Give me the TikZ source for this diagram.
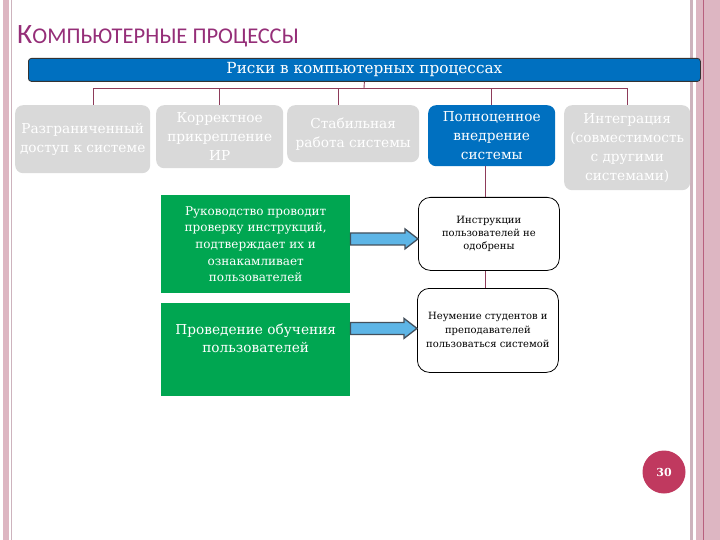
\documentclass[tikz,border=0pt]{standalone}
\usepackage{fontspec}
\setmainfont{DejaVu Serif}
\newfontfamily\titlefont{Carlito}
\usetikzlibrary{calc}
\definecolor{graybox}{HTML}{D9D9D9}
\definecolor{bluebox}{HTML}{0070C0}
\definecolor{greenbox}{HTML}{00A651}
\definecolor{conncol}{HTML}{8E3B5A}
\definecolor{titlecol}{HTML}{952E78}
\definecolor{pinkband}{HTML}{DDB6C2}
\definecolor{pinkline}{HTML}{B8607E}
\definecolor{thinline}{HTML}{CDB3BD}
\definecolor{pagecol}{HTML}{C0395F}
\definecolor{arrowfill}{HTML}{5DB5E6}
\definecolor{arrowline}{HTML}{44505C}
\begin{document}
\begin{tikzpicture}[x=1pt,y=-1pt,
  box/.style={anchor=north west, inner sep=0pt, align=center},
  grayb/.style={box, fill=graybox, rounded corners=8pt, text=white, font=\fontsize{13.7}{19}\selectfont},
  blueb/.style={box, fill=bluebox, rounded corners=8pt, text=white, font=\fontsize{13.7}{19}\selectfont},
  greenb/.style={box, fill=greenbox, text=white},
  whiteb/.style={box, draw=black, fill=white, line width=0.8pt, rounded corners=12pt, font=\fontsize{10}{13}\selectfont},
  conn/.style={draw=conncol, line width=0.9pt},
  bigarrow/.style={to path={let \p1=(\tikztostart), \p2=(\tikztotarget) in
    (\x1,\y2+6pt) -- (\x2-13pt,\y2+6pt) -- (\x2-13pt,\y2+10pt) -- (\x2,\y2) --
    (\x2-13pt,\y2-10pt) -- (\x2-13pt,\y2-6pt) -- (\x1,\y2-6pt) -- cycle}},
  arrowbody/.style={draw=arrowline, fill=arrowfill, line width=1.3pt}
]
% page frame
\fill[white] (0,0) rectangle (720,540);
\useasboundingbox (0,0) rectangle (720,540);
\fill[pinkband] (3,0) rectangle (9,540);
\draw[thinline, line width=0.8pt] (11.5,0) -- (11.5,540);
\fill[thinline] (690,0) rectangle (692.5,540);
\fill[pinkband] (696,0) rectangle (720,540);
\draw[pinkline, line width=0.9pt] (703,0) -- (703,540);

% title
\node[anchor=base west, inner sep=0pt, text=titlecol, font=\titlefont] (title) at (17,44)
  {{\fontsize{28}{28}\selectfont К}{\fontsize{22.5}{22.5}\selectfont ОМПЬЮТЕРНЫЕ ПРОЦЕССЫ}};

% top box
\node[box, fill=bluebox, draw=black!80, line width=0.8pt, rounded corners=3pt,
  minimum width=672, minimum height=23, text=white, font=\fontsize{15.3}{15.3}\selectfont]
  (top) at (28,58) {Риски в компьютерных процессах};

% second row
\node[grayb, minimum width=135, minimum height=68] (b1) at (15,105) {Разграниченный\\доступ к системе};
\node[grayb, minimum width=127, minimum height=63] (b2) at (156,105) {Корректное\\прикрепление\\ИР};
\node[grayb, minimum width=132, minimum height=57] (b3) at (287,105) {Стабильная\\работа системы};
\node[blueb, minimum width=127, minimum height=61] (b4) at (428,105) {Полноценное\\внедрение\\системы};
\node[grayb, minimum width=126, minimum height=85] (b5) at (564,105) {Интеграция\\(совместимость\\с другими\\системами)};

% green boxes
\node[greenb, minimum width=189, minimum height=98, font=\fontsize{12}{16.7}\selectfont] (g1) at (161,195)
  {Руководство проводит\\проверку инструкций,\\подтверждает их и\\ознакамливает\\пользователей};
\node[greenb, minimum width=189, minimum height=93] (g2) at (161,303) {};
\node[inner sep=0pt, align=center, text=white, font=\fontsize{13.7}{18}\selectfont] (g2t)
  at ([yshift=11pt]g2.center) {Проведение обучения\\пользователей};

% white boxes
\node[whiteb, minimum width=141, minimum height=73] (i1) at (418,197) {Инструкции\\пользователей не\\одобрены};
\node[whiteb, minimum width=141, minimum height=84, font=\fontsize{10}{14}\selectfont] (i2) at (417,288)
  {Неумение студентов и\\преподавателей\\пользоваться системой};

% connectors
\coordinate (bus) at (364,88);
\draw[conn] (top.south) -- (bus);
\draw[conn] (bus) -| ([xshift=10.5pt]b1.north);
\draw[conn] (bus) -| (b2.north);
\draw[conn] (bus) -| ([xshift=-15pt]b3.north);
\draw[conn] (bus) -| (b4.north);
\draw[conn] (bus) -| (b5.north);
\draw[conn] ([xshift=-3pt]i1.north |- b4.south) -- ([xshift=-3pt]i1.north);
\draw[conn] ([xshift=-3pt]i1.south) -- ([xshift=-3pt]i1.south |- i2.north);

% block arrows
\path[arrowbody] (g1.east) to[bigarrow] ([yshift=-5pt]i1.west);
\path[arrowbody] (g2.east) to[bigarrow] ([yshift=2pt]i2.west);

% page number
\node[circle, fill=pagecol, minimum size=43pt, inner sep=0pt, text=white,
  font=\fontsize{11}{11}\selectfont\bfseries] (pg) at (664,472) {30};
\end{tikzpicture}
\end{document}
